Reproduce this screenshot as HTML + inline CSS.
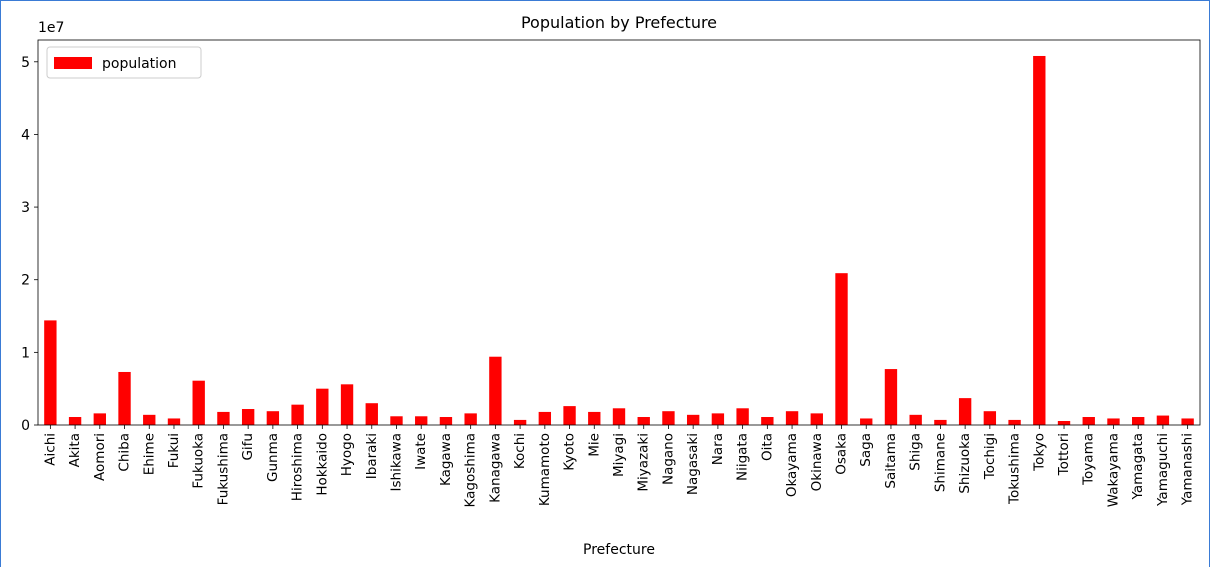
<!DOCTYPE html>
<html><head><meta charset="utf-8"><style>
html,body{margin:0;padding:0;background:#fff;}
#wrap{width:1210px;height:567px;position:relative;box-sizing:border-box;border:1px solid #3a7bd5;border-bottom:none;overflow:hidden;}
svg{position:absolute;left:0;top:0;font-family:"DejaVu Sans","Liberation Sans",sans-serif;}
</style></head><body>
<div id="wrap">
<svg id="chart" width="1210" height="567"></svg>
</div>
<script>
const categories=["Aichi","Akita","Aomori","Chiba","Ehime","Fukui","Fukuoka","Fukushima","Gifu","Gunma","Hiroshima","Hokkaido","Hyogo","Ibaraki","Ishikawa","Iwate","Kagawa","Kagoshima","Kanagawa","Kochi","Kumamoto","Kyoto","Mie","Miyagi","Miyazaki","Nagano","Nagasaki","Nara","Niigata","Oita","Okayama","Okinawa","Osaka","Saga","Saitama","Shiga","Shimane","Shizuoka","Tochigi","Tokushima","Tokyo","Tottori","Toyama","Wakayama","Yamagata","Yamaguchi","Yamanashi"];
const population=[14400000,1100000,1600000,7300000,1400000,900000,6100000,1800000,2200000,1900000,2800000,5000000,5600000,3000000,1200000,1200000,1100000,1600000,9400000,700000,1800000,2600000,1800000,2300000,1100000,1900000,1400000,1600000,2300000,1100000,1900000,1600000,20900000,900000,7700000,1400000,700000,3700000,1900000,700000,50800000,550000,1100000,900000,1100000,1300000,900000];
const yTicks=[0,1,2,3,4,5];
const L=37,R=1199,T=39,B=424,yMax=5.3e7;
const NS="http://www.w3.org/2000/svg";
const svg=document.getElementById('chart');
function mk(t,a,txt){const e=document.createElementNS(NS,t);for(const k in a)e.setAttribute(k,a[k]);if(txt!=null)e.textContent=txt;svg.appendChild(e);return e;}
const step=(R-L)/categories.length;
const x=i=>L+(i+0.5)*step;
const y=v=>B-(v/yMax)*(B-T);
population.forEach((v,i)=>{
 const r=mk('rect',{x:x(i)-step/4,y:y(v),width:step/2,height:B-y(v),fill:'#ff0000'});
 
 
});
categories.forEach((c,i)=>{
 const t=mk('line',{x1:x(i),x2:x(i),y1:B,y2:B+4,stroke:'#000','stroke-width':0.8});
 
 
 const l=mk('text',{x:0,y:0,'font-size':13.5,'text-anchor':'end','dominant-baseline':'central',transform:`translate(${x(i)},${B+8}) rotate(-90)`,fill:'#000'},c);
 
 
});
yTicks.forEach(v=>{
 const yy=y(v*1e7);
 const t=mk('line',{x1:L-4,x2:L,y1:yy,y2:yy,stroke:'#000','stroke-width':0.8});
 
 
 const l=mk('text',{x:L-8,y:yy+5,'font-size':14,'text-anchor':'end',fill:'#000'},String(v));
 
 
});
const fr=mk('rect',{x:L,y:T,width:R-L,height:B-T,fill:'none',stroke:'#000','stroke-width':0.8});


const off=mk('text',{x:L,y:31,'font-size':14,fill:'#000'},'1e7');


const ti=mk('text',{x:(L+R)/2,y:27,'font-size':16,'text-anchor':'middle',fill:'#000'},'Population by Prefecture');


const xl=mk('text',{x:(L+R)/2,y:553,'font-size':14,'text-anchor':'middle',fill:'#000'},'Prefecture');


const lb=mk('rect',{x:46,y:46,width:154,height:31,rx:3,fill:'#fff',stroke:'#ccc','stroke-width':1});


const ls=mk('rect',{x:53,y:56,width:38,height:12,fill:'#ff0000'});


const lt=mk('text',{x:101,y:67,'font-size':14,fill:'#000'},'population');


</script>
</body></html>
